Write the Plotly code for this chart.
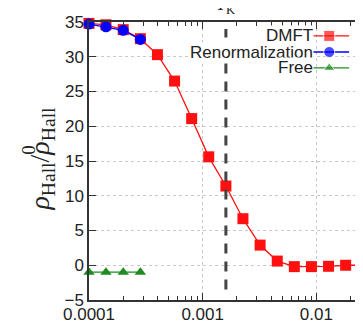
import math
import plotly.graph_objects as go

# ---- data ----
x_dmft = [1.0e-4, 1.41e-4, 2.0e-4, 2.83e-4, 4.0e-4, 5.66e-4, 8.0e-4, 1.13e-3, 1.6e-3,
          2.26e-3, 3.2e-3, 4.53e-3, 6.4e-3, 9.05e-3, 1.28e-2, 1.81e-2, 2.56e-2]
y_dmft = [34.8, 34.6, 33.9, 32.6, 30.3, 26.5, 21.1, 15.6, 11.4,
          6.7, 2.9, 0.6, -0.2, -0.2, -0.15, 0.0, 0.0]
x_ren = [1.0e-4, 1.41e-4, 2.0e-4, 2.83e-4]
y_ren = [34.7, 34.3, 33.8, 32.5]
x_free = [1.0e-4, 1.41e-4, 2.0e-4, 2.83e-4]
y_free = [-1.0, -1.0, -1.0, -1.0]
T_K = 1.6e-3
xtick_vals = [1e-4, 1e-3, 1e-2]
xtick_text = ["0.0001", "0.001", "0.01"]
ytick_vals = [-5, 0, 5, 10, 15, 20, 25, 30, 35]
legend_names = ["DMFT", "Renormalization", "Free"]

RED = "#ff1010"
BLUE = "#0000ff"
GREEN = "#1e8c1e"
FONT = "Liberation Sans, Arial, sans-serif"

fig = go.Figure()
fig.add_trace(go.Scatter(x=x_dmft, y=y_dmft, mode="lines+markers", cliponaxis=False,
                         line=dict(color=RED, width=1.3),
                         marker=dict(symbol="square", size=11, color=RED)))
fig.add_trace(go.Scatter(x=x_ren, y=y_ren, mode="lines+markers", cliponaxis=False,
                         line=dict(color=BLUE, width=1.3),
                         marker=dict(symbol="circle", size=11, color=BLUE)))
fig.add_trace(go.Scatter(x=x_free, y=y_free, mode="lines+markers", cliponaxis=False,
                         line=dict(color=GREEN, width=1.3),
                         marker=dict(symbol="triangle-up", size=10, color=GREEN)))

# custom legend samples (line with marker on the right of text)
leg_y = [0.950, 0.892, 0.835]
styles = [("square", 11, RED), ("circle", 11, BLUE), ("triangle-up", 10, GREEN)]
for name, ly, (sym, sz, col) in zip(legend_names, leg_y, styles):
    fig.add_trace(go.Scatter(x=[0.787, 0.858, 0.929], y=[ly, ly, ly], xaxis="x2", yaxis="y2",
                             mode="lines+markers", cliponaxis=False,
                             line=dict(color=col, width=1.3),
                             marker=dict(symbol=sym, size=[0, sz, 0], color=col)))
    fig.add_annotation(xref="paper", yref="paper", x=0.802, y=ly, xanchor="right",
                       yanchor="middle", text=name, showarrow=False, bgcolor="white",
                       borderpad=0,
                       font=dict(family=FONT, size=17, color="#222"))

# legend background hiding the grid
fig.add_shape(type="rect", xref="paper", yref="paper", x0=0.351, x1=1.0, y0=0.806, y1=1.0,
              fillcolor="white", line=dict(width=0), layer="between")
# T_K dashed line
fig.add_shape(type="line", xref="x", yref="y", x0=T_K, x1=T_K, y0=-3.5, y1=34.0,
              line=dict(color="#444", width=3, dash="10px,8px"), layer="above")
fig.add_annotation(xref="x", yref="paper", x=math.log10(T_K), y=1.0,
                   yanchor="bottom", yshift=3, text="<i>T</i><sub>K</sub>", showarrow=False,
                   font=dict(family="Liberation Serif", size=18, color="#222"))

# y-axis label
fig.add_annotation(xref="paper", yref="paper", x=-0.17, y=0.51, textangle=-90,
                   xanchor="center", yanchor="middle",
                   text="<i>ρ</i><sub>Hall</sub>/<i>ρ</i><sub>Hall</sub>", showarrow=False,
                   font=dict(family="Liberation Serif", size=28, color="#222"))
fig.add_annotation(xref="paper", yref="paper", x=-0.215, y=0.54, textangle=-90,
                   xanchor="center", yanchor="middle",
                   text="0", showarrow=False,
                   font=dict(family="Liberation Serif", size=19, color="#222"))

axis_common = dict(showline=True, linecolor="#333", linewidth=1.5, mirror="ticks",
                   ticks="inside", tickcolor="#333", zeroline=False,
                   showgrid=True, gridcolor="#c8c8c8", griddash="dot", gridwidth=1,
                   tickfont=dict(family=FONT, size=17, color="#222"))
fig.update_layout(
    width=363, height=321, plot_bgcolor="white", paper_bgcolor="white",
    margin=dict(l=81, r=0, t=14, b=29), showlegend=False,
    xaxis=dict(type="log", range=[-4, -1.537], tickvals=xtick_vals, ticktext=xtick_text,
               ticklen=7, ticklabelstandoff=-2,
               minor=dict(ticks="inside", ticklen=4, dtick="D1", tickcolor="#333", showgrid=False),
               **axis_common),
    yaxis=dict(range=[-5, 35], tickvals=ytick_vals, ticklen=7, **axis_common),
    xaxis2=dict(overlaying="x", range=[0, 1], visible=False),
    yaxis2=dict(overlaying="y", range=[0, 1], visible=False),
)
fig.write_html("out.html")
